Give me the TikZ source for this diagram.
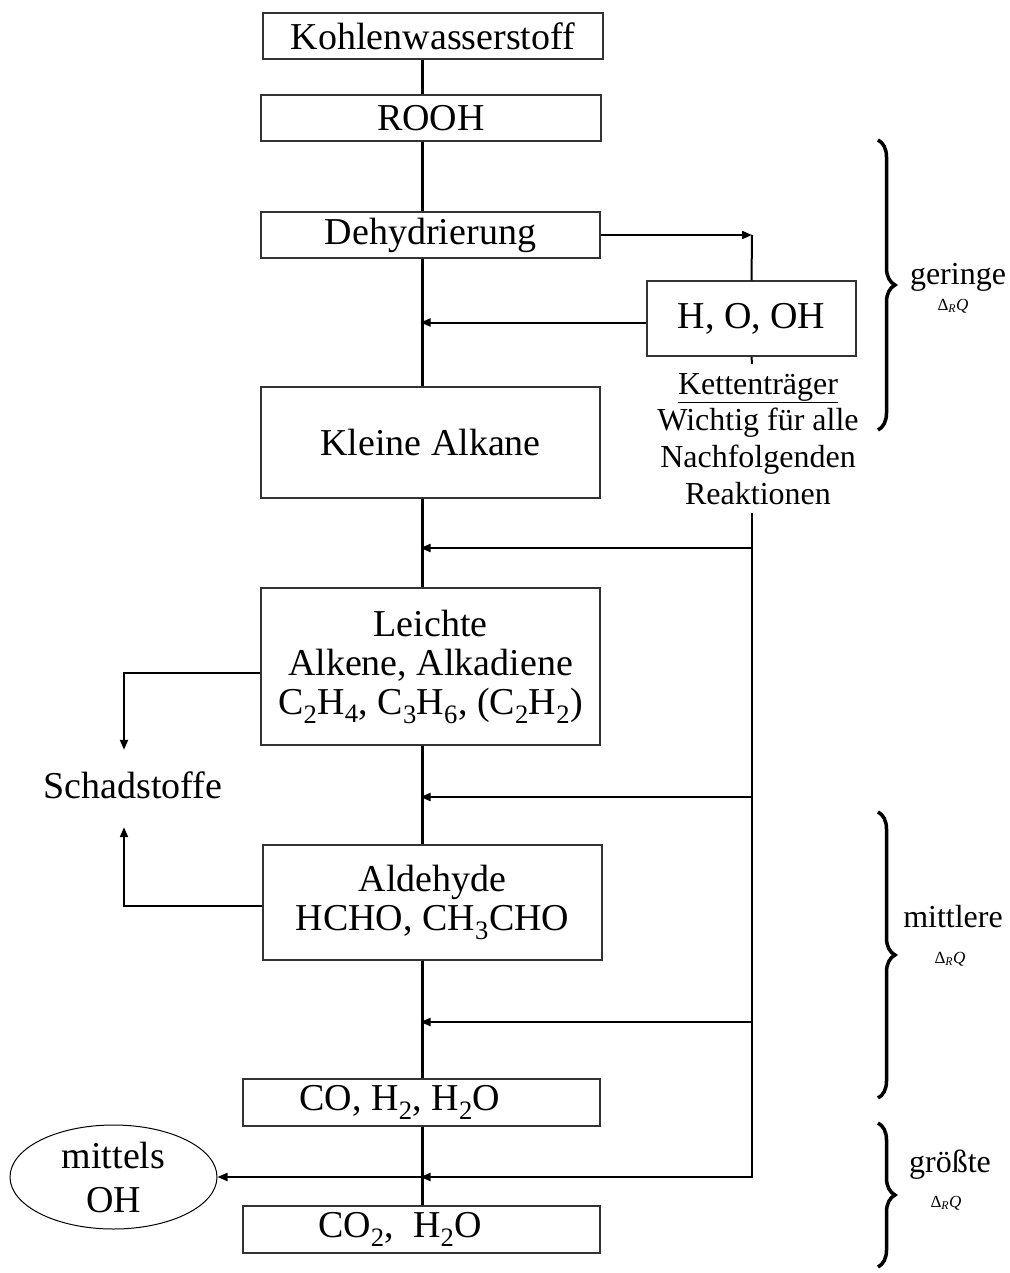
\documentclass[tikz,border=0pt]{standalone}
\usepackage{fontspec}
\setmainfont{Liberation Serif}
\usetikzlibrary{arrows.meta,shapes.geometric,decorations.pathreplacing,calc}
\begin{document}
\begin{tikzpicture}[x=1pt,y=-1pt,
  box/.style={draw=black!80,line width=1.2pt,inner sep=0pt,align=center,font=\fontsize{38}{39}\selectfont},
  spineline/.style={line width=3pt},
  arr/.style={line width=2pt,-{Triangle[length=10pt,width=8pt]}},
  conn/.style={line width=2pt},
  bracestyle/.style={decorate,decoration={brace,amplitude=17pt},line width=3.5pt},
  side/.style={font=\fontsize{32}{36.7}\selectfont,inner sep=0pt,align=center},
  lvl/.style={font=\fontsize{32}{32}\selectfont,inner sep=0pt,anchor=base},
  dq/.style={font=\fontsize{17}{17}\selectfont,inner sep=0pt,anchor=base}]
\useasboundingbox (0,0) rectangle (1009,1273);

% boxes
\node[box,minimum width=340pt,minimum height=46pt] (K) at (433,36) {Kohlenwasserstoff};
\node[box,minimum width=340pt,minimum height=46pt] (R) at (431,118) {ROOH};
\node[box,minimum width=339pt,minimum height=46pt] (D) at (430.5,235) {Dehydrierung};
\node[box,minimum width=209pt,minimum height=75pt] (H) at (751.5,318.5) {H, O, OH};
\node[box,minimum width=339pt,minimum height=111pt] (Kl) at (430.5,442.5) {Kleine Alkane};
\node[box,minimum width=339pt,minimum height=157pt] (L) at (430.5,666.5) {Leichte\\Alkene, Alkadiene\\C\textsubscript{2}H\textsubscript{4}, C\textsubscript{3}H\textsubscript{6}, (C\textsubscript{2}H\textsubscript{2})};
\node[box,minimum width=339pt,minimum height=115pt] (A) at (432.5,902.5) {Aldehyde\\HCHO, CH\textsubscript{3}CHO};
\node[box,minimum width=357pt,minimum height=47pt] (C1) at (421.5,1102.5) {\hspace*{-43pt}CO, H\textsubscript{2}, H\textsubscript{2}O};
\node[box,minimum width=357pt,minimum height=47pt] (C2) at (421.5,1229.5) {\hspace*{-43pt}CO\textsubscript{2}, \ H\textsubscript{2}O};
\node[draw,ellipse,line width=1pt,minimum width=207pt,minimum height=104pt,inner sep=0pt,align=center,font=\fontsize{38}{44}\selectfont] (E) at (113.5,1177) {mittels\\OH};
\node[inner sep=0pt,font=\fontsize{38}{38}\selectfont,text height=48pt,text depth=29pt,anchor=base] (S) at (133,798) {Schadstoffe};
\node[side,anchor=north] (kt) at (758,373) {\underline{Kettenträger}\\Wichtig für alle\\Nachfolgenden\\Reaktionen};

% coordinates
\coordinate (spine) at (422,0);
\coordinate (sx) at (124,0);
\coordinate (rtop) at (752,235);
\coordinate (tick) at (752,364);
\coordinate (r1) at (752,513);
\coordinate (r2) at (752,1178);
\coordinate (y1) at (752,548);
\coordinate (y2) at (752,797);
\coordinate (y3) at (752,1022);
\coordinate (y4) at (752,1177);

% main spine
\foreach \a/\b in {K/R,R/D,D/Kl,Kl/L,L/A,A/C1,C1/C2}
  \draw[spineline] (\a.south -| spine) -- (\b.north -| spine);

% right side
\draw[arr] (D.east) -- (rtop);
\draw[conn] (rtop) -- (H.north);
\draw[arr,shorten >=-1.5pt] ([yshift=-4pt]H.west) -- ([yshift=-4pt]H.west -| spine);
\draw[conn] (H.south) -- (tick);
\draw[line width=2.5pt] (r1) -- (r2);
\foreach \c in {y1,y2,y3,y4}
  \draw[arr,shorten >=-1.5pt] (\c) -- (\c -| spine);
\draw[arr] (y4 -| spine) -- (E.east);

% left side
\draw[arr] ([yshift=-6.5pt]L.west) -| (S.north -| sx);
\draw[arr] ([yshift=-3.5pt]A.west) -| (S.south -| sx);

% braces
\draw[bracestyle] (878,140) -- (878,430);
\draw[bracestyle] (878,812) -- (878,1098);
\draw[bracestyle] (878,1123) -- (878,1267);

\node[lvl] (g1) at (958,284) {geringe};
\node[dq] (q1) at (953,310) {Δ\textsubscript{\textit{R}}\textit{Q}};
\node[lvl] (g2) at (953,927) {mittlere};
\node[dq] (q2) at (950,963) {Δ\textsubscript{\textit{R}}\textit{Q}};
\node[lvl] (g3) at (950,1172) {größte};
\node[dq] (q3) at (946,1207) {Δ\textsubscript{\textit{R}}\textit{Q}};
\end{tikzpicture}
\end{document}
